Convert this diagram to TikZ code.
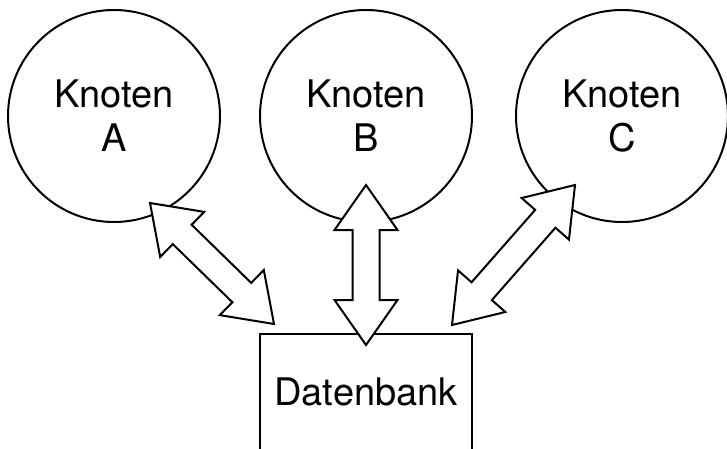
\documentclass[tikz,border=0pt]{standalone}
\usepackage{fontspec}
\setmainfont{TeX Gyre Heros}
\usetikzlibrary{calc}
\tikzset{
  knoten/.style={draw, line width=2pt, circle, minimum size=212pt, inner sep=0pt,
    align=center, font=\fontsize{38}{44}\selectfont},
  dbbox/.style={draw, line width=2pt, minimum width=212pt, minimum height=115.8pt,
    inner sep=0pt, font=\fontsize{38}{44}\selectfont},
  blockarrow/.style={draw, line width=2pt, fill=white, line join=miter},
}
\newcommand{\dblblockarrow}[2]{%
  \coordinate (h1) at ($(#1)!45pt!(#2)$);
  \coordinate (h2) at ($(#2)!45pt!(#1)$);
  \draw[blockarrow] (#1)
    -- ($(h1)!31.5pt!90:(#2)$) -- ($(h1)!13.5pt!90:(#2)$)
    -- ($(h2)!13.5pt!-90:(#1)$) -- ($(h2)!31.5pt!-90:(#1)$)
    -- (#2)
    -- ($(h2)!31.5pt!90:(#1)$) -- ($(h2)!13.5pt!90:(#1)$)
    -- ($(h1)!13.5pt!-90:(#2)$) -- ($(h1)!31.5pt!-90:(#2)$)
    -- cycle;}
\begin{document}
\begin{tikzpicture}[x=1pt, y=-1pt]
\useasboundingbox (0,0) rectangle (727,449);
\node[knoten] (A) at (114,116) {Knoten\\A};
\node[knoten] (B) at (366,116) {Knoten\\B};
\node[knoten] (C) at (622,116) {Knoten\\C};
\node[dbbox] (D) at (366,391.9) {Datenbank};
\coordinate (a1) at (150,203);
\coordinate (a2) at (274,324);
\coordinate (b1) at (366,185);
\coordinate (b2) at (366,345);
\coordinate (c1) at (575,185);
\coordinate (c2) at (452,325);
\dblblockarrow{a1}{a2}
\dblblockarrow{b1}{b2}
\dblblockarrow{c1}{c2}
\end{tikzpicture}
\end{document}
